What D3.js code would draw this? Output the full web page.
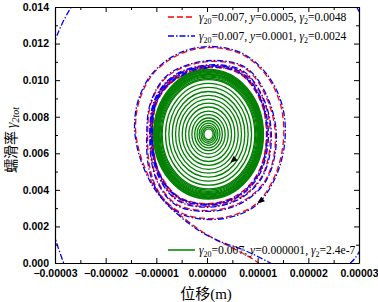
<!DOCTYPE html>
<html>
<head>
<meta charset="utf-8">
<script src="https://cdn.jsdelivr.net/npm/d3@7"></script>
<style>
  body { margin: 0; background: #fff; }
  svg { display: block; }
</style>
</head>
<body>
<svg id="chart"></svg>
<script>
// axis ticks
const xTicks = [-0.00003, -0.00002, -0.00001, 0, 0.00001, 0.00002, 0.00003];
const xMinor = [-0.000025, -0.000015, -0.000005, 0.000005, 0.000015, 0.000025];
const yTicks = [0, 0.002, 0.004, 0.006, 0.008, 0.01, 0.012, 0.014];
const yMinor = [0.001, 0.003, 0.005, 0.007, 0.009, 0.011, 0.013];

// red: y20=0.007, y=0.0005, y2=0.0048  (displacement, creep rate)
const redPath = [
  [1.15e-5, -0.00046], [1.00e-5, 0.00003], [0.56e-5, 0.00074], [0.17e-5, 0.00128],
  [-0.13e-5, 0.00178], [-0.42e-5, 0.00238], [-0.72e-5, 0.00309], [-1.02e-5, 0.00407],
  [-1.25e-5, 0.00538], [-1.37e-5, 0.00648], [-1.41e-5, 0.00757], [-1.33e-5, 0.00893],
  [-1.06e-5, 0.01036], [-0.56e-5, 0.01139], [0.01e-5, 0.01178], [0.66e-5, 0.01145],
  [1.16e-5, 0.01030], [1.45e-5, 0.00866], [1.51e-5, 0.00675], [1.35e-5, 0.00484],
  [1.00e-5, 0.00331], [0.56e-5, 0.00265], [0.01e-5, 0.00243], [-0.52e-5, 0.00276],
  [-0.92e-5, 0.00374], [-1.12e-5, 0.00511], [-1.17e-5, 0.00702], [-1.10e-5, 0.00877],
  [-0.76e-5, 0.01025], [0.01e-5, 0.01101], [0.76e-5, 0.01063], [1.19e-5, 0.00893],
  [1.35e-5, 0.00675], [1.16e-5, 0.00456], [0.66e-5, 0.00331], [0.01e-5, 0.00287],
  [-0.62e-5, 0.00325], [-1.00e-5, 0.00467], [-1.12e-5, 0.00702], [-1.02e-5, 0.00893],
  [-0.66e-5, 0.01019], [0.01e-5, 0.01079], [0.70e-5, 0.01046], [1.12e-5, 0.00888],
  [1.25e-5, 0.00675], [1.08e-5, 0.00473], [0.62e-5, 0.00352], [0.01e-5, 0.00309],
  [-0.58e-5, 0.00347], [-0.96e-5, 0.00484], [-1.10e-5, 0.00702], [-1.00e-5, 0.00893],
  [-0.64e-5, 0.01014], [0.01e-5, 0.01074], [0.66e-5, 0.01041], [1.08e-5, 0.00883],
  [1.19e-5, 0.00675], [1.02e-5, 0.00484], [0.60e-5, 0.00363], [0.01e-5, 0.00320],
  [-0.56e-5, 0.00358], [-0.94e-5, 0.00489], [-1.08e-5, 0.00702], [-0.98e-5, 0.00893],
  [-0.62e-5, 0.01008], [0.01e-5, 0.01068], [0.64e-5, 0.01036], [1.06e-5, 0.00883],
  [1.17e-5, 0.00675], [1.00e-5, 0.00489], [0.58e-5, 0.00369], [0.01e-5, 0.00325],
  [-0.56e-5, 0.00363], [-0.94e-5, 0.00495], [-1.07e-5, 0.00702], [-0.97e-5, 0.00890],
  [-0.61e-5, 0.01005], [0.01e-5, 0.01066]
];

// blue: y20=0.007, y=0.0001, y2=0.0024 (starts on a big outer loop)
const bluePath = [
  [-2.70e-5, -0.0010], [-2.83e-5, 0.0], [-3.00e-5, 0.00140], [-3.30e-5, 0.0050],
  [-3.35e-5, 0.0090], [-3.00e-5, 0.01217], [-2.67e-5, 0.01403], [-1.80e-5, 0.0170],
  [0.0, 0.0185], [2.40e-5, 0.0160], [3.60e-5, 0.0090], [3.40e-5, 0.0030],
  [2.97e-5, 0.00046], [2.83e-5, 0.0], [2.30e-5, -0.0009], [1.70e-5, -0.0007],
  [1.25e-5, 0.0], [0.75e-5, 0.00068], [0.27e-5, 0.00117], [-0.13e-5, 0.00172],
  [-0.43e-5, 0.00232], [-0.73e-5, 0.00304], [-1.03e-5, 0.00402], [-1.27e-5, 0.00535],
  [-1.39e-5, 0.00648], [-1.43e-5, 0.00757], [-1.35e-5, 0.00896], [-1.07e-5, 0.01040],
  [-0.57e-5, 0.01145], [0.01e-5, 0.01184], [0.67e-5, 0.01150], [1.18e-5, 0.01033],
  [1.48e-5, 0.00866], [1.54e-5, 0.00675], [1.37e-5, 0.00480], [1.01e-5, 0.00325],
  [0.56e-5, 0.00258], [0.01e-5, 0.00238], [-0.53e-5, 0.00271], [-0.93e-5, 0.00370],
  [-1.14e-5, 0.00508], [-1.19e-5, 0.00702], [-1.11e-5, 0.00880], [-0.77e-5, 0.01030],
  [0.01e-5, 0.01106], [0.77e-5, 0.01068], [1.21e-5, 0.00896], [1.37e-5, 0.00675],
  [1.17e-5, 0.00452], [0.67e-5, 0.00326], [0.01e-5, 0.00282], [-0.63e-5, 0.00320],
  [-1.01e-5, 0.00463], [-1.13e-5, 0.00702], [-1.03e-5, 0.00896], [-0.67e-5, 0.01022],
  [0.01e-5, 0.01083], [0.71e-5, 0.01050], [1.13e-5, 0.00890], [1.27e-5, 0.00675],
  [1.09e-5, 0.00470], [0.63e-5, 0.00348], [0.01e-5, 0.00305], [-0.59e-5, 0.00343],
  [-0.97e-5, 0.00481], [-1.11e-5, 0.00702], [-1.01e-5, 0.00895], [-0.65e-5, 0.01017],
  [0.01e-5, 0.01077], [0.67e-5, 0.01044], [1.09e-5, 0.00885], [1.21e-5, 0.00675],
  [1.03e-5, 0.00481], [0.61e-5, 0.00360], [0.01e-5, 0.00316], [-0.57e-5, 0.00355],
  [-0.95e-5, 0.00487], [-1.09e-5, 0.00702], [-0.99e-5, 0.00894], [-0.63e-5, 0.01010],
  [0.01e-5, 0.01070], [0.65e-5, 0.01038], [1.07e-5, 0.00884], [1.18e-5, 0.00675],
  [1.01e-5, 0.00487], [0.59e-5, 0.00366], [0.01e-5, 0.00322], [-0.57e-5, 0.00361],
  [-0.95e-5, 0.00493], [-1.08e-5, 0.00702], [-0.98e-5, 0.00891], [-0.62e-5, 0.01006],
  [0.01e-5, 0.01067]
];

// green: y20=0.007, y=0.000001, y2=2.4e-7 -- turn amplitudes, outer to inner
const greenCenter = [0.03e-5, 0.00704];
const greenRx = [1.085e-5, 1.072e-5, 1.058e-5, 1.044e-5, 1.030e-5, 1.016e-5, 1.003e-5,
  0.989e-5, 0.973e-5, 0.955e-5, 0.933e-5, 0.914e-5, 0.849e-5, 0.783e-5, 0.716e-5,
  0.651e-5, 0.586e-5, 0.519e-5, 0.454e-5, 0.389e-5, 0.328e-5, 0.272e-5, 0.225e-5,
  0.186e-5, 0.150e-5, 0.118e-5, 0.091e-5];
const greenRy = [0.00355, 0.00351, 0.00346, 0.00342, 0.00337, 0.00332, 0.00328,
  0.00324, 0.00318, 0.00312, 0.00305, 0.00299, 0.00278, 0.00256, 0.00234,
  0.00213, 0.00192, 0.00170, 0.00149, 0.00127, 0.00107, 0.00089, 0.00074,
  0.00061, 0.00049, 0.00039, 0.00030];

// direction arrows sit on the trajectories
const arrowPts = [[0.46e-5, 0.00549], [1.00e-5, 0.00325]];

const legendItems = [
  { color: "#ff0000", dash: "6,3", g20: "0.007", v: "0.0005", g2: "0.0048" },
  { color: "#0000ff", dash: "6,2,1.5,2", g20: "0.007", v: "0.0001", g2: "0.0024" },
  { color: "#008000", dash: null, g20: "0.007", v: "0.000001", g2: "2.4e-7" }
];

const W = 378, H = 302;
const margin = { top: 7, right: 19, bottom: 39, left: 55 };
const width = W - margin.left - margin.right;
const height = H - margin.top - margin.bottom;

const svg = d3.select("#chart").attr("width", W).attr("height", H);
const g = svg.append("g").attr("transform", `translate(${margin.left},${margin.top})`);

const x = d3.scaleLinear().domain([-0.00003, 0.00003]).range([0, width]);
const y = d3.scaleLinear().domain([0, 0.014]).range([height, 0]);

g.append("clipPath").attr("id", "clip")
  .append("rect").attr("width", width).attr("height", height);

const plot = g.append("g").attr("clip-path", "url(#clip)");

const line = d3.line()
  .x((d) => x(d[0]))
  .y((d) => y(d[1]))
  .curve(d3.curveCatmullRom.alpha(0.5));

plot.append("path").datum(redPath)
  .attr("d", line).attr("fill", "none")
  .attr("stroke", "#ff0000").attr("stroke-width", 1.3)
  .attr("stroke-dasharray", "6,3");

plot.append("path").datum(bluePath)
  .attr("d", line).attr("fill", "none")
  .attr("stroke", "#0000ff").attr("stroke-width", 1.3)
  .attr("stroke-dasharray", "6,2,1.5,2");

plot.selectAll(".ring")
  .data(greenRx)
  .enter()
  .append("ellipse")
  .attr("class", "ring")
  .attr("cx", x(greenCenter[0]))
  .attr("cy", y(greenCenter[1]))
  .attr("rx", (d) => x(greenCenter[0] + d) - x(greenCenter[0]))
  .attr("ry", (d, i) => y(greenCenter[1]) - y(greenCenter[1] + greenRy[i]))
  .attr("fill", "none")
  .attr("stroke", "#008000")
  .attr("stroke-width", 1.3);

plot.selectAll(".arrow")
  .data(arrowPts)
  .enter()
  .append("path")
  .attr("class", "arrow")
  .attr("d", "M0,0L-7,-3L-7,3Z")
  .attr("transform", (d) => `translate(${x(d[0])},${y(d[1])}) rotate(140)`)
  .attr("fill", "#000");

// axes, ticks inward on all four sides
const fmtX = d3.format(".5f");
const fmtY = d3.format(".3f");

function styleAxis(sel) {
  sel.select(".domain").attr("stroke", "#000").attr("stroke-width", 1.2);
  sel.selectAll(".tick line").attr("stroke", "#000").attr("stroke-width", 1);
  sel.selectAll("text")
    .style("font-family", "'Liberation Sans', Arial, sans-serif")
    .style("font-size", "10.5px")
    .style("font-weight", "bold")
    .attr("fill", "#000");
}

g.append("g").attr("transform", `translate(0,${height})`)
  .call(d3.axisBottom(x).tickValues(xMinor).tickSize(-3).tickFormat(""))
  .call((s) => s.select(".domain").remove())
  .call(styleAxis);
g.append("g").attr("transform", `translate(0,${height})`)
  .call(d3.axisBottom(x).tickValues(xTicks).tickSizeInner(-5).tickSizeOuter(0)
    .tickPadding(7).tickFormat(fmtX))
  .call(styleAxis);

g.append("g")
  .call(d3.axisTop(x).tickValues(xMinor).tickSize(-3).tickFormat(""))
  .call((s) => s.select(".domain").remove())
  .call(styleAxis);
g.append("g")
  .call(d3.axisTop(x).tickValues(xTicks).tickSizeInner(-5).tickSizeOuter(0).tickFormat(""))
  .call(styleAxis);

g.append("g")
  .call(d3.axisLeft(y).tickValues(yMinor).tickSize(-3).tickFormat(""))
  .call((s) => s.select(".domain").remove())
  .call(styleAxis);
g.append("g")
  .call(d3.axisLeft(y).tickValues(yTicks).tickSizeInner(-5).tickSizeOuter(0)
    .tickPadding(6).tickFormat(fmtY))
  .call(styleAxis);

g.append("g").attr("transform", `translate(${width},0)`)
  .call(d3.axisRight(y).tickValues(yMinor).tickSize(-3).tickFormat(""))
  .call((s) => s.select(".domain").remove())
  .call(styleAxis);
g.append("g").attr("transform", `translate(${width},0)`)
  .call(d3.axisRight(y).tickValues(yTicks).tickSizeInner(-5).tickSizeOuter(0).tickFormat(""))
  .call(styleAxis);

// axis titles
svg.append("text")
  .attr("x", 206).attr("y", 299)
  .attr("text-anchor", "middle")
  .style("font-size", "15px")
  .call((t) => {
    t.append("tspan").style("font-family", "'Noto Sans CJK SC', sans-serif").text("位移");
    t.append("tspan").style("font-family", "'Liberation Serif', serif").text("(m)");
  });

svg.append("text")
  .attr("transform", "translate(16,140) rotate(-90)")
  .attr("text-anchor", "middle")
  .style("font-size", "14px")
  .call((t) => {
    t.append("tspan").style("font-family", "'Noto Sans CJK SC', sans-serif").text("蠕滑率 ");
    t.append("tspan").style("font-family", "'Liberation Serif', serif")
      .style("font-style", "italic").text("γ");
    t.append("tspan").style("font-family", "'Liberation Serif', serif")
      .style("font-style", "italic").style("font-size", "10px").attr("dy", 3).text("2tot");
  });

// legends
const legendY = [17, 36, 250];
legendItems.forEach((d, i) => {
  const ly = legendY[i];
  svg.append("line")
    .attr("x1", 168).attr("x2", 195).attr("y1", ly).attr("y2", ly)
    .attr("stroke", d.color).attr("stroke-width", 1.5)
    .attr("stroke-dasharray", d.dash);
  const t = svg.append("text")
    .attr("x", 199).attr("y", ly + 4)
    .style("font-family", "'Liberation Serif', 'Times New Roman', serif")
    .style("font-size", "11.6px")
    .attr("fill", "#000");
  t.append("tspan").style("font-style", "italic").text("γ");
  t.append("tspan").style("font-size", "8px").attr("dy", 3).text("20");
  t.append("tspan").attr("dy", -3).text(`=${d.g20}, `);
  t.append("tspan").style("font-style", "italic").text("y");
  t.append("tspan").text(`=${d.v}, `);
  t.append("tspan").style("font-style", "italic").text("γ");
  t.append("tspan").style("font-size", "8px").attr("dy", 3).text("2");
  t.append("tspan").attr("dy", -3).text(`=${d.g2}`);
});
</script>
</body>
</html>
